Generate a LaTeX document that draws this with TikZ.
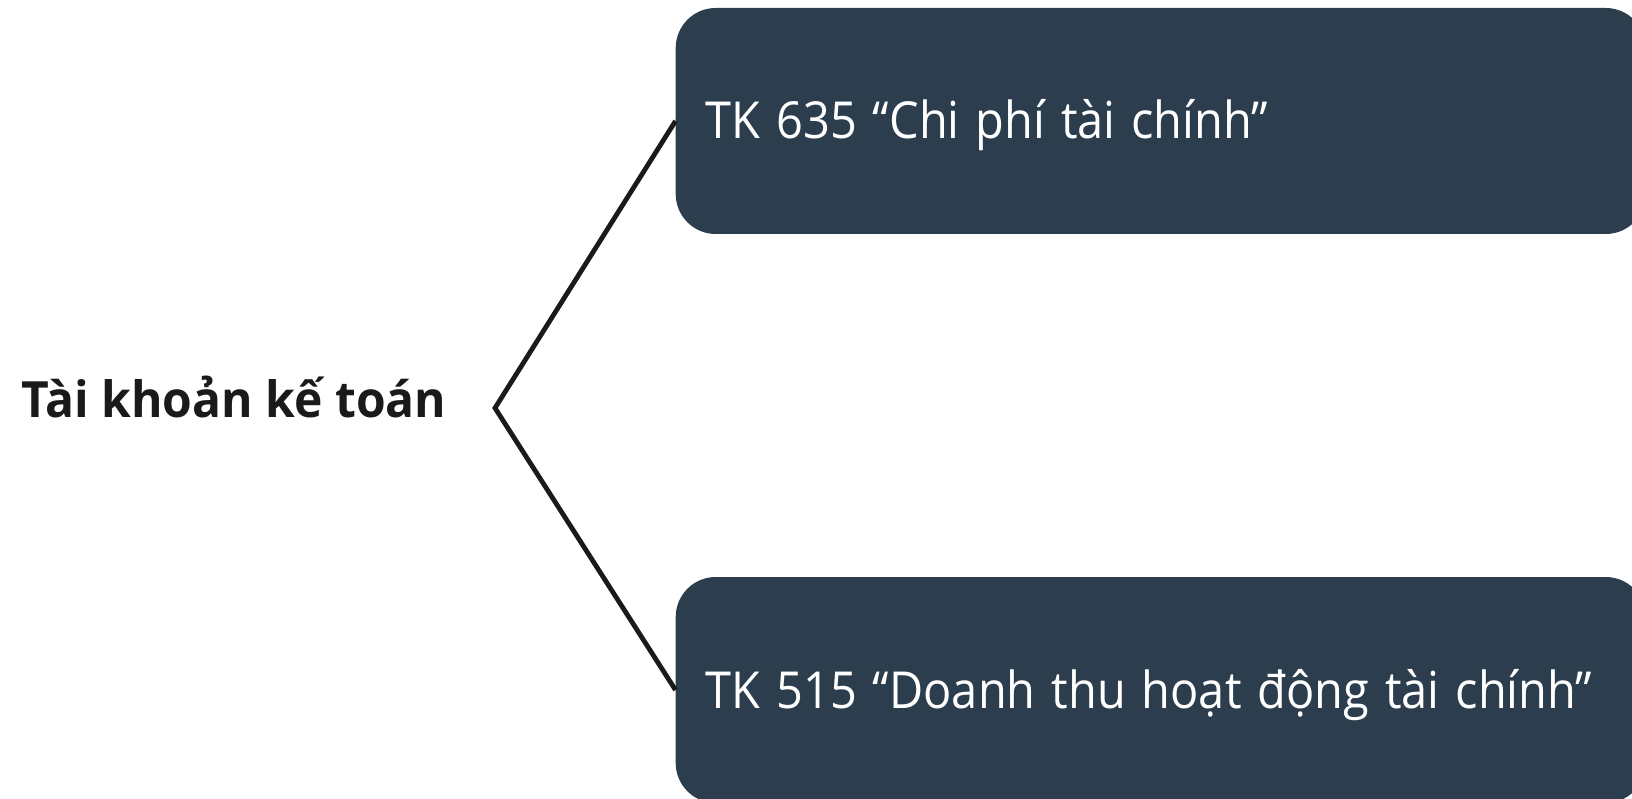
\documentclass[tikz,border=0pt]{standalone}
\usepackage{fontspec}
\setmainfont{Open Sans}
\newfontfamily\boxfont[FakeStretch=0.92]{Open Sans}
\newfontfamily\headfont[FakeStretch=0.96]{Open Sans}
\usepackage{xcolor}
\usepackage{tikz}
\usetikzlibrary{positioning}

\definecolor{boxblue}{HTML}{2C3E4E}
\definecolor{inkdark}{HTML}{1A1A1A}

% narrower word spaces in the boxes
\newcommand{\tightspace}{\spaceskip=16pt plus 2pt minus 1pt\relax}

\tikzset{
  accbox/.style={fill=boxblue, text=white, rounded corners=40pt,
    minimum height=226pt, text width=910pt, inner xsep=30pt,
    text height=42pt, text depth=6pt, align=left,
    font=\boxfont\fontsize{51}{60}\selectfont,
    execute at begin node=\tightspace},
  branch/.style={draw=inkdark, line width=4.8pt}
}

\begin{document}
\begin{tikzpicture}[x=1pt,y=-1pt]
  % page frame
  \useasboundingbox (0,0) rectangle (1632,799);

  % the two accounts
  \node[accbox, anchor=west] (tkcp) at (675.5,121) {TK 635 “Chi phí tài chính”};
  \node[accbox, anchor=west] (tkdt) at (675.5,690) {TK 515 “Doanh thu hoạt động tài chính”};

  % heading on the left
  \node[anchor=base west, inner sep=0pt, text=inkdark,
        font=\headfont\bfseries\fontsize{50}{60}\selectfont] (acct) at (21,417) {Tài khoản kế toán};

  % fork
  \coordinate (fork) at (495,408);
  \draw[branch] (tkcp.west) -- (fork) -- (tkdt.west);

\end{tikzpicture}
\end{document}
